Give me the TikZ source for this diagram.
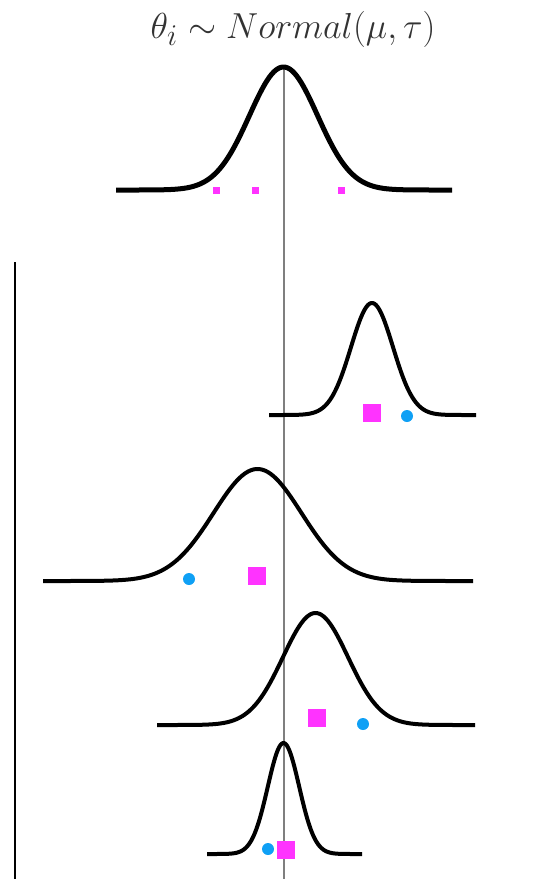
\documentclass[tikz,border=0pt]{standalone}
\usepackage{graphicx}
\usepackage{xcolor}
\usepackage{tikz}
\definecolor{estmagenta}{HTML}{FF33FF}
\definecolor{obsblue}{HTML}{0FA0F5}
\definecolor{axisgray}{HTML}{7F7F7F}
\definecolor{titlegray}{HTML}{333333}

\begin{document}
\begin{tikzpicture}[x=0.75pt,y=-0.75pt,
        density/.style={line width=3pt,line join=round},
        est/.style={fill=estmagenta},
        obs/.style={fill=obsblue}]
      \useasboundingbox (0,0) rectangle (541,879);
      \node[font=\fontsize{24.88}{30}\selectfont,text=titlegray,anchor=base] (title) at (293,38)
        {\scalebox{1.09}{$\theta_i \sim Normal(\mu,\tau)$}};
      \draw[axisgray,line width=0.9pt] (284,66) -- (284,879);
      \draw[line width=1.5pt] (15,262) -- (15,879);
      \draw[density,line width=3.75pt] plot[domain=116:452,samples=150]
        (\x,{190-123*exp(-0.5*((\x-283.5)/34)*((\x-283.5)/34))});
      \foreach \sx in {216.5,255.5,341.5}
        \fill[est] (\sx-3.5,187) rectangle (\sx+3.5,194);
      \foreach \mx/\base/\peak/\sig/\xa/\xb in {372/415/303/21/269/476,
          257.5/581/469/44/43/473, 315.5/725/613/32.5/157/475, 283.5/854/743/15.7/207/362}
        \draw[density] plot[domain=\xa:\xb,samples=150]
          (\x,{\base-(\base-\peak)*exp(-0.5*((\x-\mx)/\sig)*((\x-\mx)/\sig))});
      \foreach \sx/\sy/\cx/\cy in {372/413/407/416, 257/576/189/579,
          317/718/363/724, 286/850/268/849}
        {\fill[est] (\sx-9,\sy-9) rectangle (\sx+9,\sy+9);
         \fill[obs] (\cx,\cy) circle[radius=4.5pt];}
    \end{tikzpicture}
\end{document}
